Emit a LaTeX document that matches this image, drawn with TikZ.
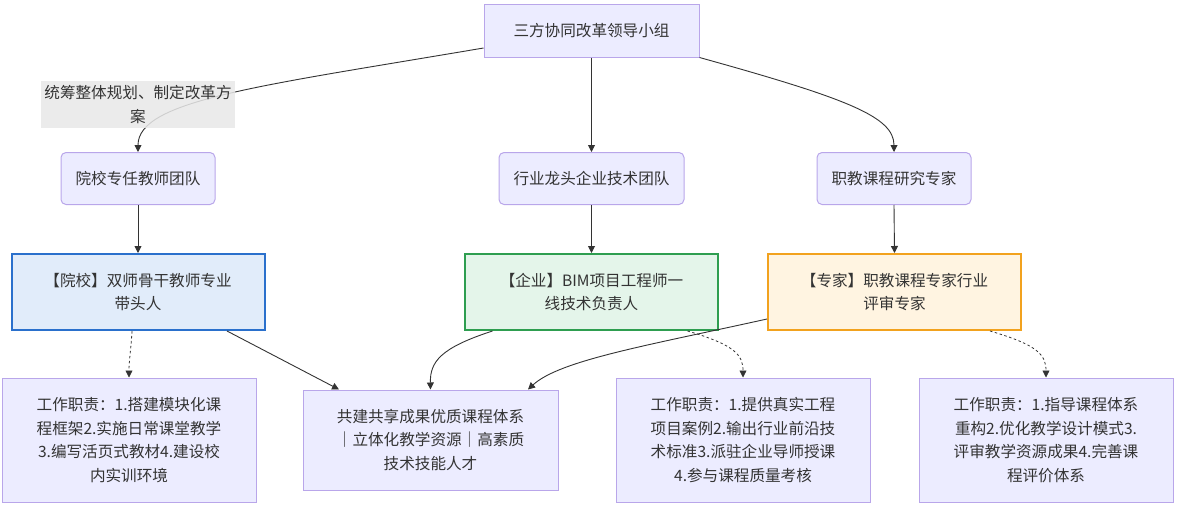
\documentclass[tikz,border=0pt]{standalone}
\usepackage{fontspec}
\setmainfont{Noto Sans CJK SC}
\usetikzlibrary{arrows.meta,calc}
\definecolor{txt}{HTML}{333333}
\definecolor{nfill}{HTML}{ECECFF}
\definecolor{nstroke}{HTML}{B9A6EA}
\definecolor{linec}{HTML}{333333}
\definecolor{labfill}{HTML}{E8E8E8}
\definecolor{bstroke}{HTML}{2A70CC}
\definecolor{bfill}{HTML}{E1ECFA}
\definecolor{gstroke}{HTML}{2E9E50}
\definecolor{gfill}{HTML}{E4F5EA}
\definecolor{ostroke}{HTML}{F2A21E}
\definecolor{ofill}{HTML}{FFF4E1}
\begin{document}
\begin{tikzpicture}[x=1pt,y=-1pt,
  font=\fontsize{15.6}{23.5}\selectfont, text=txt,
  base/.style={draw=nstroke, fill=nfill, line width=1pt, inner sep=0pt, align=center},
  team/.style={base, rounded corners=5pt, minimum height=52pt},
  role/.style={base, line width=2pt, minimum width=253pt, minimum height=76pt},
  duty/.style={base, minimum width=254pt, minimum height=124pt},
  link/.style={draw=linec, line width=0.9pt, -{Triangle[length=7pt,width=7pt]}},
  dotlink/.style={link, line width=0.8pt, dash pattern=on 2.5pt off 2.5pt},
  edgelab/.style={fill=labfill, fill opacity=0.85, text opacity=1, inner sep=0pt, align=center,
    minimum width=194pt, minimum height=47pt}]
\useasboundingbox (0,0) rectangle (1178,506);

\node[base, minimum width=215pt, minimum height=53pt] (lead) at (591.5,30.5) {三方协同改革领导小组};

\node[team, minimum width=154pt] (school) at (138,178.5) {院校专任教师团队};
\node[team, minimum width=185pt] (firm) at (591.5,178.5) {行业龙头企业技术团队};
\node[team, minimum width=154pt] (expert) at (894,178.5) {职教课程研究专家};

\node[role, draw=bstroke, fill=bfill] (rs) at (138,292) {【院校】双师骨干教师专业\\带头人};
\node[role, draw=gstroke, fill=gfill] (re) at (591.5,292) {【企业】BIM项目工程师一\\线技术负责人};
\node[role, draw=ostroke, fill=ofill] (rx) at (894.5,292) {【专家】职教课程专家行业\\评审专家};

\node[duty] (d1) at (129,440) {工作职责：1.搭建模块化课\\程框架2.实施日常课堂教学\\3.编写活页式教材4.建设校\\内实训环境};
\node[base, minimum width=255pt, minimum height=100pt] (out) at (430.5,440) {共建共享成果优质课程体系\\｜立体化教学资源｜高素质\\技术技能人才};
\node[duty] (d2) at (743,440) {工作职责：1.提供真实工程\\项目案例2.输出行业前沿技\\术标准3.派驻企业导师授课\\4.参与课程质量考核};
\node[duty] (d3) at (1046,440) {工作职责：1.指导课程体系\\重构2.优化教学设计模式3.\\评审教学资源成果4.完善课\\程评价体系};

% leadership group to teams
\draw[link] ($(lead.west)+(0,17.5)$) .. controls (260,86) and (138,100) .. (school.north);
\draw[link] (lead.south) -- (firm.north);
\draw[link] (lead.south east) .. controls (849,99) and (894,117) .. (expert.north);

% teams to roles
\draw[link] (school.south) -- (rs.north);
\draw[link] (firm.south) -- (re.north);
\draw[link] (expert.south) -- (rx.north);

% roles to outcome
\draw[link] ($(rs.south)+(89,0)$) -- ($(out.north)+(-91.5,0)$);
\draw[link] ($(re.south)+(-99,0)$) .. controls (440,348) and (430,362) .. (out.north);
\draw[link] ($(rx.south west)+(0,-12)$) .. controls (650,345) and (560,360) .. ($(out.north)+(97.5,0)$);

% roles to duties
\draw[dotlink] ($(rs.south)+(-6,0)$) .. controls (131,350) and (129,360) .. (d1.north);
\draw[dotlink] ($(re.south)+(96,0)$) .. controls (735,345) and (743,355) .. (d2.north);
\draw[dotlink] ($(rx.south)+(95.5,0)$) .. controls (1038,345) and (1046,355) .. (d3.north);

\node[edgelab] (lab) at (138,104.5) {统筹整体规划、制定改革方\\案};
\end{tikzpicture}
\end{document}
